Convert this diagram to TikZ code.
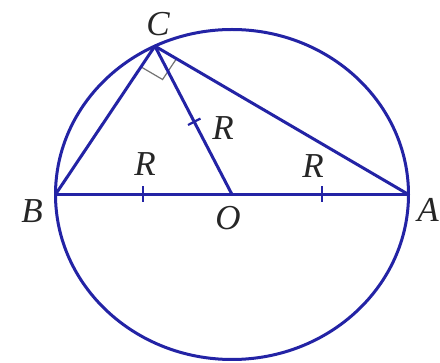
\documentclass[tikz,border=0pt]{standalone}
\usepackage{fontspec}
\setmainfont{Liberation Serif}
\usetikzlibrary{calc}
\definecolor{geo}{RGB}{35,35,165}
\begin{document}
\begin{tikzpicture}[x=1pt,y=-1pt,
  geoline/.style={draw=geo,line width=3pt,line cap=round,line join=round},
  tickline/.style={draw=geo,line width=2.2pt},
  lbl/.style={font=\fontsize{35}{40}\selectfont\itshape,inner sep=0pt,text=black!85}]
\useasboundingbox (0,0) rectangle (440,363);
\fill[white] (0,0) rectangle (440,363);
\coordinate (O) at (232,194.5);
\coordinate (A) at (408.5,194.5);
\coordinate (B) at (55.5,194.5);
\coordinate (C) at (154.9,46.1);
% right angle mark
\coordinate (p1) at ($(C)!25pt!(B)$);
\coordinate (p2) at ($(C)!25pt!(A)$);
\coordinate (pc) at ($(p1)+(p2)-(C)$);
\draw[black!55,line width=1.2pt] (p1) -- (pc) -- (p2);
% circle
\draw[geoline] (O) ellipse [x radius=176.5pt, y radius=165pt];
% triangle and radius
\draw[geoline] (B) -- (A);
\draw[geoline] (B) -- (C) -- (A);
\draw[geoline] (O) -- (C);
% ticks
\coordinate (t1) at (143,194.5);
\coordinate (t2) at (322,194.5);
\draw[tickline] ($(t1)+(0,-8)$) -- ($(t1)+(0,8)$);
\draw[tickline] ($(t2)+(0,-8)$) -- ($(t2)+(0,8)$);
\coordinate (t3) at ($(O)!0.49!(C)$);
\draw[tickline] ($(t3)!7pt!90:(C)$) -- ($(t3)!7pt!-90:(C)$);
% labels
\node[lbl] (lC) at (158,24) {C};
\node[lbl] (lB) at (32,211) {B};
\node[lbl] (lA) at (428,210) {A};
\node[lbl] (lO) at (228,218) {O};
\node[lbl] (lR1) at (145,164) {R};
\node[lbl] (lR2) at (313,166) {R};
\node[lbl] (lR3) at (223,128) {R};
\end{tikzpicture}
\end{document}
